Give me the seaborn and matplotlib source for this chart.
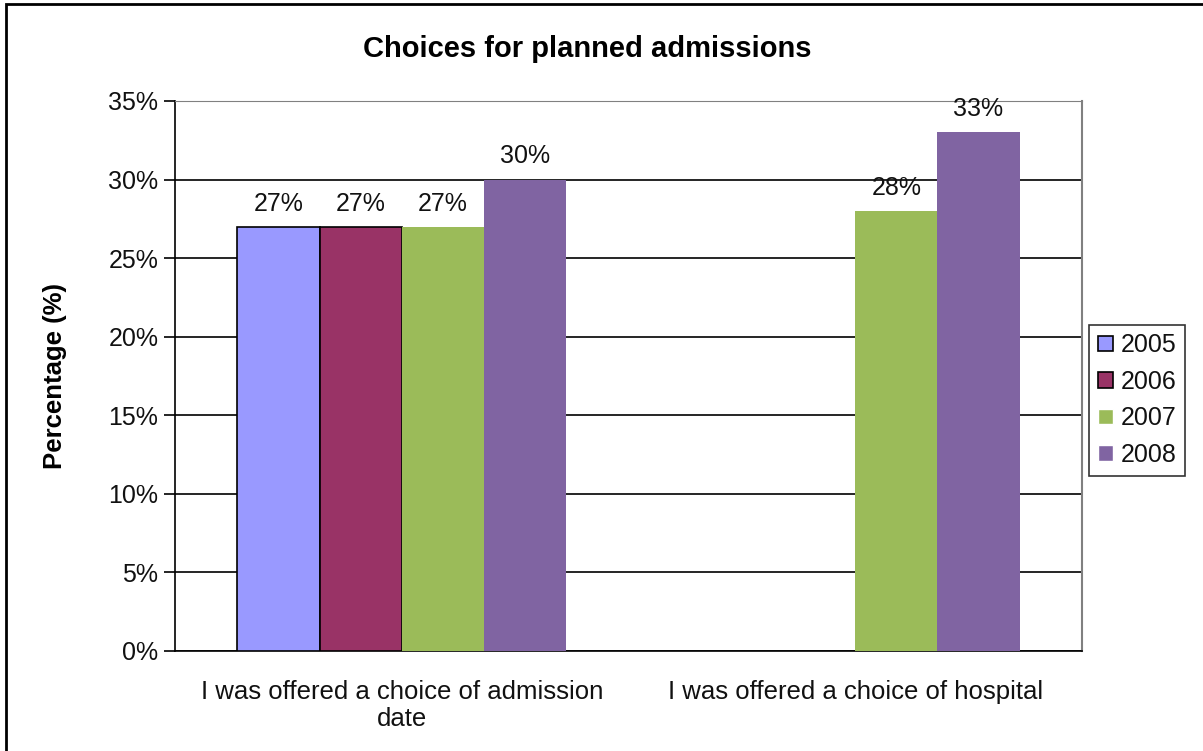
import matplotlib.pyplot as plt
import seaborn as sns
import pandas as pd
import numpy as np
from matplotlib.patches import Rectangle

categories = ["I was offered a choice of admission\ndate", "I was offered a choice of hospital"]
years = ["2005", "2006", "2007", "2008"]
values_2005 = [27, np.nan]
values_2006 = [27, np.nan]
values_2007 = [27, 28]
values_2008 = [30, 33]
colors = ["#9999FF", "#993366", "#9BBB59", "#8064A2"]

rows = []
for yr, vals in zip(years, [values_2005, values_2006, values_2007, values_2008]):
    for cat, v in zip(categories, vals):
        rows.append({'Question': cat, 'Year': yr, 'Value': v})
df = pd.DataFrame(rows)

sns.set_style('white')
plt.rcParams['font.family'] = ['Liberation Sans', 'DejaVu Sans']

fig = plt.figure(figsize=(12.03, 7.51), dpi=100)
ax = fig.add_axes([175/1203, 1-651/751, (1082-175)/1203, (651-101)/751])

sns.barplot(data=df, x='Question', y='Value', hue='Year', palette=colors,
            width=0.725, ax=ax, errorbar=None, saturation=1, zorder=3)

# edges: black for 2005/2006 only
for i, cont in enumerate(ax.containers):
    for bar in cont:
        if i < 2:
            bar.set_edgecolor('black')
            bar.set_linewidth(1.2)
        else:
            bar.set_linewidth(0)
    labels = ["" if np.isnan(v) else f"{int(v)}%" for v in cont.datavalues]
    ax.bar_label(cont, labels=labels, padding=8, fontsize=18, color='#111111')

ax.set_ylim(0, 35)
ax.set_xlim(-0.5, 1.5)
ax.set_yticks(range(0, 36, 5))
ax.set_yticklabels([f"{t}%" for t in range(0, 36, 5)], fontsize=18, color='#111111')
ax.set_xticks([0, 1])
ax.set_xticklabels(categories, fontsize=18.5, color='#111111', linespacing=1.15)
ax.set_xticks([-0.5, 0.5, 1.5], minor=True)
ax.tick_params(axis='x', which='major', length=0, pad=21)
ax.tick_params(axis='x', which='minor', length=8, width=1.2, color='black', direction='out')
ax.tick_params(axis='y', length=8, width=1.2, color='black', direction='out', left=True, pad=4)

ax.yaxis.grid(True, color='black', linewidth=1.2, zorder=0)
ax.set_axisbelow(True)
for g in ax.get_ygridlines()[-1:]:
    g.set_color('#808080')

ax.spines['left'].set_color('black')
ax.spines['left'].set_linewidth(1.2)
ax.spines['bottom'].set_color('black')
ax.spines['bottom'].set_linewidth(1.2)
ax.spines['top'].set_color('#808080')
ax.spines['right'].set_color('#808080')
ax.spines['right'].set_linewidth(1.5)

ax.set_xlabel('')
ax.set_ylabel('Percentage (%)', fontsize=18.5, fontweight='bold', labelpad=30, color='black')
fig.text(587/1203, 1-49/751, 'Choices for planned admissions', fontsize=21,
         fontweight='bold', ha='center', va='center', color='black')

leg = ax.legend(title=None, loc='center left', bbox_to_anchor=(1.008, (651-400)/550), fontsize=18,
                frameon=True, fancybox=False, edgecolor='black', handlelength=0.6,
                handleheight=0.6, handletextpad=0.3, labelspacing=0.5, borderpad=0.35,
                borderaxespad=0)
leg.get_frame().set_linewidth(1.2)
for t in leg.get_texts():
    t.set_color('#111111')
for i, h in enumerate(leg.legend_handles):
    if i < 2:
        h.set_edgecolor('black')
        h.set_linewidth(1.2)

fig.patches.append(Rectangle((6/1203, -0.1), 1.2, 1.1 - 4/751, transform=fig.transFigure,
                             fill=False, edgecolor='black', linewidth=2))

fig.savefig('out.png', dpi=100)
